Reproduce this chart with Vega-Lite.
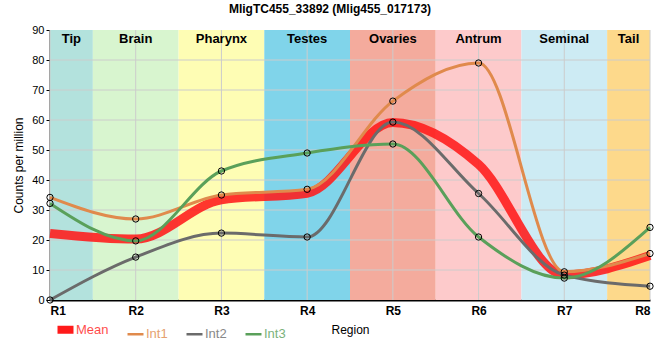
{
  "$schema": "https://vega.github.io/schema/vega-lite/v6.json",
  "width": 600,
  "height": 270,
  "autosize": {"type": "none"},
  "padding": {"left": 50, "top": 30, "right": 10, "bottom": 60},
  "background": "white",
  "title": {"text": "MligTC455_33892 (Mlig455_017173)", "font": "Liberation Sans", "fontSize": 12, "fontWeight": "bold", "anchor": "middle", "dx": -20, "offset": 8, "color": "black"},
  "config": {
    "view": {"stroke": null},
    "axis": {"labelFont": "Liberation Sans", "titleFont": "Liberation Sans", "grid": false, "zindex": 1, "domainColor": "black", "domainWidth": 2, "tickColor": "black", "labelColor": "black", "titleColor": "black", "labelOverlap": false},
    "axisY": {"tickCount": 10},
    "axisX": {"tickCount": 8}
  },
  "datasets": {
    "bands": [
      {"region": "Tip", "start": 1, "end": 1.5, "mid": 1.25},
      {"region": "Brain", "start": 1.5, "end": 2.5, "mid": 2},
      {"region": "Pharynx", "start": 2.5, "end": 3.5, "mid": 3},
      {"region": "Testes", "start": 3.5, "end": 4.5, "mid": 4},
      {"region": "Ovaries", "start": 4.5, "end": 5.5, "mid": 5},
      {"region": "Antrum", "start": 5.5, "end": 6.5, "mid": 6},
      {"region": "Seminal", "start": 6.5, "end": 7.5, "mid": 7},
      {"region": "Tail", "start": 7.5, "end": 8, "mid": 7.75}
    ],
    "hgrid": [{"g": 10}, {"g": 20}, {"g": 30}, {"g": 40}, {"g": 50}, {"g": 60}, {"g": 70}, {"g": 80}],
    "series": [
      {"series": "Mean", "r": 1, "v": 22.2}, {"series": "Mean", "r": 2, "v": 20.3}, {"series": "Mean", "r": 3, "v": 33.4}, {"series": "Mean", "r": 4, "v": 35.6},
      {"series": "Mean", "r": 5, "v": 59.2}, {"series": "Mean", "r": 6, "v": 45.2}, {"series": "Mean", "r": 7, "v": 8.4}, {"series": "Mean", "r": 8, "v": 14.8},
      {"series": "Int1", "r": 1, "v": 34.2}, {"series": "Int1", "r": 2, "v": 27}, {"series": "Int1", "r": 3, "v": 35}, {"series": "Int1", "r": 4, "v": 36.9},
      {"series": "Int1", "r": 5, "v": 66.3}, {"series": "Int1", "r": 6, "v": 79}, {"series": "Int1", "r": 7, "v": 9.4}, {"series": "Int1", "r": 8, "v": 15.5},
      {"series": "Int2", "r": 1, "v": 0}, {"series": "Int2", "r": 2, "v": 14.3}, {"series": "Int2", "r": 3, "v": 22.3}, {"series": "Int2", "r": 4, "v": 21},
      {"series": "Int2", "r": 5, "v": 59.3}, {"series": "Int2", "r": 6, "v": 35.5}, {"series": "Int2", "r": 7, "v": 8.3}, {"series": "Int2", "r": 8, "v": 4.6},
      {"series": "Int3", "r": 1, "v": 32.2}, {"series": "Int3", "r": 2, "v": 19.7}, {"series": "Int3", "r": 3, "v": 43}, {"series": "Int3", "r": 4, "v": 49},
      {"series": "Int3", "r": 5, "v": 52}, {"series": "Int3", "r": 6, "v": 21}, {"series": "Int3", "r": 7, "v": 7.3}, {"series": "Int3", "r": 8, "v": 24.2}
    ]
  },
  "layer": [
    {
      "data": {"name": "bands"},
      "mark": {"type": "rect"},
      "encoding": {
        "x": {"field": "start", "type": "quantitative", "scale": {"domain": [1, 8], "nice": false, "zero": false},
              "axis": {"values": [1, 2, 3, 4, 5, 6, 7, 8], "labelExpr": "'R' + datum.value", "title": "Region", "labelFontWeight": "bold", "labelFontSize": 12, "titleFontSize": 12, "titleFontWeight": "normal", "ticks": false, "labelPadding": 5, "titlePadding": 8}},
        "x2": {"field": "end"},
        "y": {"datum": 0, "type": "quantitative", "scale": {"domain": [0, 90], "nice": false},
              "axis": {"values": [0, 10, 20, 30, 40, 50, 60, 70, 80, 90], "title": "Counts per million", "titleFontSize": 12, "titleFontWeight": "normal", "labelFontSize": 11, "tickSize": 4, "titlePadding": 6}},
        "y2": {"datum": 90},
        "fill": {"field": "region", "type": "nominal", "legend": null,
                 "scale": {"domain": ["Tip", "Brain", "Pharynx", "Testes", "Ovaries", "Antrum", "Seminal", "Tail"],
                           "range": ["#b3e2dd", "#d8f5cf", "#fefdb4", "#80d4ea", "#f4ab9d", "#fdcacb", "#cdebf4", "#fdd98b"]}}
      }
    },
    {
      "data": {"name": "hgrid"},
      "mark": {"type": "rule", "color": "#cccccc", "strokeWidth": 1},
      "encoding": {"y": {"field": "g", "type": "quantitative"}}
    },
    {
      "data": {"name": "series"},
      "transform": [{"filter": "datum.series === 'Mean'"}],
      "mark": {"type": "rule", "color": "#cccccc", "strokeWidth": 1},
      "encoding": {"x": {"field": "r", "type": "quantitative"}}
    },
    {
      "data": {"name": "bands"},
      "mark": {"type": "text", "font": "Liberation Sans", "fontWeight": "bold", "fontSize": 13, "baseline": "middle", "color": "black"},
      "encoding": {
        "x": {"field": "mid", "type": "quantitative"},
        "y": {"datum": 87, "type": "quantitative"},
        "text": {"field": "region"}
      }
    },
    {
      "data": {"name": "series"},
      "mark": {"type": "line", "interpolate": "monotone", "strokeCap": "butt"},
      "encoding": {
        "x": {"field": "r", "type": "quantitative"},
        "y": {"field": "v", "type": "quantitative"},
        "stroke": {"field": "series", "type": "nominal", "title": null,
                   "scale": {"domain": ["Mean", "Int1", "Int2", "Int3"], "range": ["#ff1a1a", "#e08a4c", "#6b6b6b", "#5aa05a"]},
                   "legend": {"orient": "none", "legendX": 9, "legendY": 293, "direction": "horizontal", "symbolType": "stroke", "symbolSize": 256, "labelFont": "Liberation Sans", "labelFontSize": 13, "columnPadding": 13, "labelOffset": 4,
                              "encode": {
                                "symbols": {"update": {"strokeWidth": {"signal": "datum.value === 'Mean' ? 8 : 2.5"}}},
                                "labels": {"update": {"fill": {"scale": "stroke", "field": "value"}, "opacity": {"value": 0.8}}}}}},
        "strokeWidth": {"condition": {"test": "datum.series === 'Mean'", "value": 9}, "value": 3},
        "strokeOpacity": {"condition": {"test": "datum.series === 'Mean'", "value": 0.88}, "value": 1},
        "order": {"field": "r"}
      }
    },
    {
      "data": {"name": "series"},
      "transform": [{"filter": "datum.series !== 'Mean'"}],
      "mark": {"type": "point", "filled": false, "stroke": "black", "strokeWidth": 1, "size": 40, "opacity": 1},
      "encoding": {
        "x": {"field": "r", "type": "quantitative"},
        "y": {"field": "v", "type": "quantitative"}
      }
    },
    {
      "mark": {"type": "rule", "color": "black", "strokeWidth": 1.5},
      "encoding": {"y": {"datum": 90, "type": "quantitative"}}
    },
    {
      "mark": {"type": "rule", "color": "black", "strokeWidth": 1.5},
      "encoding": {"x": {"datum": 8, "type": "quantitative"}}
    }
  ]
}
